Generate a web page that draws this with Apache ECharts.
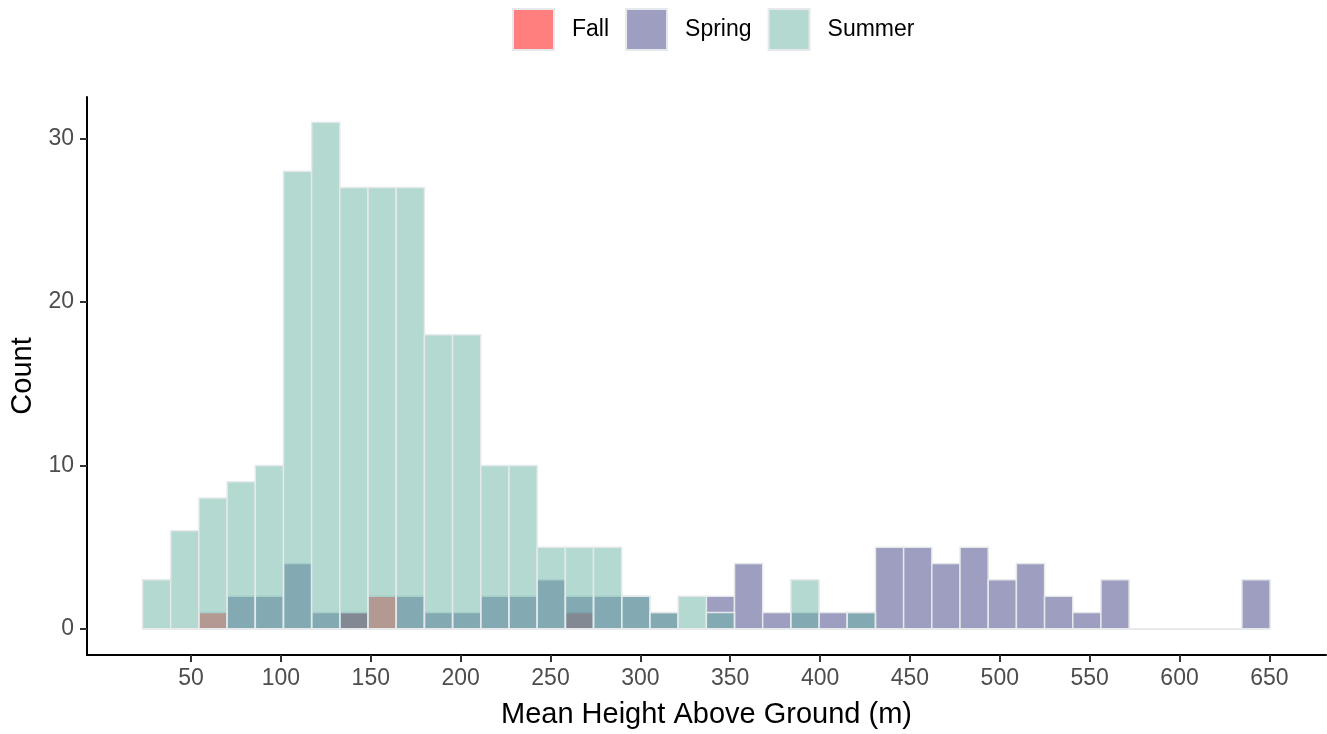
<!DOCTYPE html>
<html>
<head>
<meta charset="utf-8">
<script src="https://cdn.jsdelivr.net/npm/echarts@6/dist/echarts.min.js"></script>
<style>
html,body{margin:0;padding:0;background:#fff;}
#chart{width:1327px;height:734px;}
</style>
</head>
<body>
<div id="chart"></div>
<script>
// ---- data (histogram, 40 bins) ----
const binStart = 23.0;
const binWidth = 15.685;
const seasons = ['Fall', 'Spring', 'Summer'];
const fallCounts   = [0,0,1,0,0,0,0,1,2,0,0,0,0,0,0,1,0,0,0,0,0,0,0,0,0,0,0,0,0,0,0,0,0,0,0,0,0,0,0,0];
const springCounts = [0,0,0,2,2,4,1,1,0,2,1,1,2,2,3,2,2,2,1,0,2,4,1,1,1,1,5,5,4,5,3,4,2,1,3,0,0,0,0,3];
const summerCounts = [3,6,8,9,10,28,31,27,27,27,18,18,10,10,5,5,5,2,1,2,1,0,0,3,0,1,0,0,0,0,0,0,0,0,0,0,0,0,0,0];
const xTicks = [50,100,150,200,250,300,350,400,450,500,550,600,650];
const yTicks = [0,10,20,30];

const fills = {
  Fall: 'rgba(255,0,0,0.5)',
  Spring: 'rgba(61,61,129,0.5)',
  Summer: 'rgba(103,179,163,0.5)'
};
const outline = '#e6e9ec';
const countsBySeason = {Fall: fallCounts, Spring: springCounts, Summer: summerCounts};

function toData(counts) {
  return counts.map((c, i) => [binStart + i * binWidth, binStart + (i + 1) * binWidth, c]);
}

function renderBin(color) {
  return function (params, api) {
    const p0 = api.coord([api.value(0), 0]);
    const p1 = api.coord([api.value(1), api.value(2)]);
    return {
      type: 'rect',
      shape: {x: p0[0], y: p1[1], width: p1[0] - p0[0], height: p0[1] - p1[1]},
      style: {fill: color, stroke: outline, lineWidth: 1.5}
    };
  };
}

const font = '"Liberation Sans", Arial, sans-serif';
const chart = echarts.init(document.getElementById('chart'), null, {renderer: 'canvas'});
chart.setOption({
  animation: false,
  backgroundColor: '#ffffff',
  textStyle: {fontFamily: font},
  legend: {
    left: 512,
    top: 8,
    padding: 0,
    itemWidth: 41,
    itemHeight: 41,
    itemGap: 16,
    textStyle: {fontSize: 23, color: '#000', fontFamily: font, padding: [0, 0, 0, 13]},
    data: seasons.map(s => ({
      name: s,
      icon: 'rect',
      itemStyle: {color: fills[s], borderColor: outline, borderWidth: 2}
    }))
  },
  grid: {left: 85, right: 1, top: 97, bottom: 73, containLabel: false},
  xAxis: {
    type: 'value',
    min: -7.9,
    max: 681.5,
    name: 'Mean Height Above Ground (m)',
    nameLocation: 'middle',
    nameGap: 45,
    nameTextStyle: {fontSize: 29, color: '#000', fontFamily: font},
    axisLine: {onZero: false, lineStyle: {color: '#000', width: 2}},
    axisTick: {customValues: xTicks, length: 7, lineStyle: {color: '#333', width: 2}},
    axisLabel: {customValues: xTicks, fontSize: 23, color: '#4d4d4d', margin: 12, fontFamily: font},
    splitLine: {show: false}
  },
  yAxis: {
    type: 'value',
    min: -1.6,
    max: 32.54,
    name: 'Count',
    nameLocation: 'middle',
    nameRotate: 90,
    nameGap: 50,
    nameTextStyle: {fontSize: 29, color: '#000', fontFamily: font},
    axisLine: {onZero: false, lineStyle: {color: '#000', width: 2}},
    axisTick: {customValues: yTicks, length: 7, lineStyle: {color: '#333', width: 2}},
    axisLabel: {customValues: yTicks, fontSize: 23, color: '#4d4d4d', margin: 13, fontFamily: font},
    splitLine: {show: false}
  },
  series: seasons.map(s => ({
    name: s,
    type: 'custom',
    itemStyle: {color: fills[s]},
    encode: {x: [0, 1], y: 2},
    renderItem: renderBin(fills[s]),
    data: toData(countsBySeason[s])
  }))
});
</script>
</body>
</html>
